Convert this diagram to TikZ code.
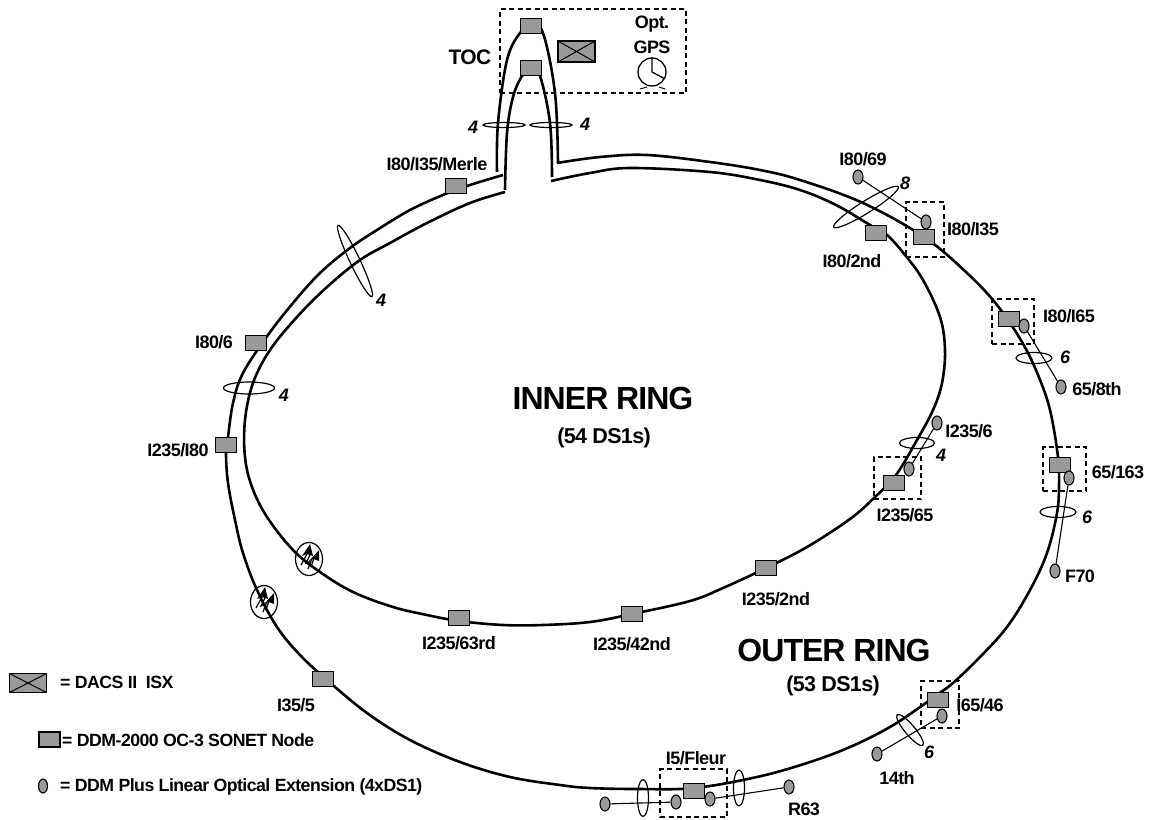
\documentclass[tikz,border=0pt]{standalone}
\usepackage{fontspec}
\usepackage{xcolor}
\setmainfont{Liberation Sans}[LetterSpace=-3]
\usetikzlibrary{arrows.meta,positioning,shapes.geometric,backgrounds}
\definecolor{boxfill}{HTML}{999999}
\providecommand{\tagf}{\fontsize{18}{20}\selectfont\bfseries}
\tikzset {
    nodebox/.style={draw, line width=1.3pt, fill=boxfill, minimum width=21pt, minimum height=15pt, inner sep=0pt},
    dacsbox/.style={draw, line width=1.3pt, fill=boxfill, inner sep=0pt,
        path picture={\draw[line width=1pt] (path picture bounding box.north west) -- (path picture bounding box.south east)
            (path picture bounding box.south west) -- (path picture bounding box.north east);}},
    extoval/.style={draw, line width=1.1pt, fill=boxfill, ellipse, minimum width=10pt, minimum height=14pt, inner sep=0pt},
    bundle/.style={draw, line width=1.2pt, ellipse, inner sep=0pt},
    site/.style={draw, line width=1.3pt, dash pattern=on 5pt off 3.5pt, inner sep=0pt},
    ring/.style={line width=2.6pt, line join=round},
    spur/.style={line width=1.1pt},
    tag/.style={font=\tagf, inner sep=0pt},
    count/.style={font=\tagf\itshape, inner sep=0pt},
    legend/.style={font=\fontsize{17.7}{20}\selectfont\bfseries, inner sep=0pt, anchor=west},
    ringname/.style={font=\fontsize{32}{35}\selectfont\bfseries, inner sep=0pt},
    ringsize/.style={font=\fontsize{21.5}{24}\selectfont\bfseries, inner sep=0pt},
    bolt/.pic={
        \fill (1,-15) -- (-7,-3) -- (-2,-5) -- (4,-3) -- cycle;
        \fill (10,-9) -- (0,2) -- (5,0) -- (10,2) -- cycle;
        \draw[line width=1.2pt] (-2,-5) -- (-8,6) (1,-4) -- (-3,4) -- (2,2) -- (-1,10) (5,-1) -- (2,8);
    }
}

\begin{document}
\begin{tikzpicture}[x=1pt, y=-1pt]
    \useasboundingbox (0,0) rectangle (1150,819);

    % nodes on the rings
    \node[nodebox] at (531,26)  (toctop) {};
    \node[nodebox] at (531,68)  (tocbot) {};
    \node[nodebox] at (456,186) (merle) {};
    \node[nodebox] at (256,343) (i806) {};
    \node[nodebox] at (226,445) (i235i80) {};
    \node[nodebox] at (323,679) (i355) {};
    \node[nodebox] at (694,791) (fleur) {};
    \node[nodebox] at (938,700) (i6546) {};
    \node[nodebox] at (1060,465) (f65163) {};
    \node[nodebox] at (1009,319) (i80i65) {};
    \node[nodebox] at (924,237) (i80i35) {};
    \node[nodebox] at (876,233) (i802nd) {};
    \node[nodebox] at (894,483) (i23565) {};
    \node[nodebox] at (766,568) (i2352nd) {};
    \node[nodebox] at (632,614) (i23542nd) {};
    \node[nodebox] at (459,618) (i23563rd) {};

    % extensions
    \node[extoval] at (858,177)  (x8069) {};
    \node[extoval] at (926,222)  (xi80i35) {};
    \node[extoval] at (1024,326) (xi80i65) {};
    \node[extoval] at (1061,387) (x658th) {};
    \node[extoval] at (937,423)  (x2356) {};
    \node[extoval] at (909,469)  (xi23565) {};
    \node[extoval] at (1069,478) (x65163) {};
    \node[extoval] at (1055,571) (xf70) {};
    \node[extoval] at (942,716)  (xi6546) {};
    \node[extoval] at (877,754)  (x14th) {};
    \node[extoval] at (676,802)  (xfleurl) {};
    \node[extoval] at (605,804)  (xfar) {};
    \node[extoval] at (710,799)  (xfleurr) {};
    \node[extoval] at (789,787)  (xr63) {};

    \begin{scope}[on background layer]
        % outer ring
        \draw[ring] plot[smooth, tension=0.6] coordinates {(557,163) (600,157) (647,155) (710,162) (760,170) (800,180) (863,203)
            (i80i35.center) (967,273) (997,305) (1022,342) (1038,375) (1050,410) (1058,457) (1059,485) (1057,513)
            (1047,553) (1030,590) (1007,627) (980,657) (953,683) (938,694) (923,705) (890,727) (850,747) (807,763)
            (757,777) (694,788) (637,789) (590,788) (560,785) (510,777) (460,762) (410,740) (367,713)
            (327,680) (300,655) (277,627) (257,590) (243,553) (235,520) (228,483) (226,453) (228,437)
            (233,403) (243,373) (268,335) (293,303) (320,273) (350,248) (377,230) (410,210) (443,195)
            (470,185) (503,175)};
        % inner ring
        \draw[ring] plot[smooth, tension=0.6] coordinates {(551,181) (590,173) (630,168) (710,172) (760,180) (800,190) (836,205)
            (870,225) (887,235) (905,255) (923,280) (940,317) (945,350) (942,383) (933,410) (917,440) (896,475)
            (875,497) (850,519) (807,547) (i2352nd.center) (723,588) (690,601)
            (i23542nd.center) (590,622) (543,625) (503,625) (459,621) (427,615) (393,607)
            (353,592) (320,572) (293,550) (267,517) (252,487) (245,457) (245,420) (253,383) (270,350)
            (297,317) (327,287) (360,260) (390,243) (427,223) (470,203) (505,192)};
        % up to the TOC
        \draw[ring] plot[smooth, tension=0.6] coordinates {(497,172) (498,123) (507,60) (520,33)
            (toctop.center) (543,33) (555,93) (558,163)};
        \draw[ring] plot[smooth, tension=0.6] coordinates {(505,190) (507,133) (513,97) (522,76)
            (tocbot.center) (540,76) (550,123) (552,177)};
        % spurs
        \draw[spur] (x8069) -- (xi80i35);
        \draw[spur] (xi80i65) -- (x658th);
        \draw[spur] (x2356) -- (xi23565);
        \draw[spur] (x65163) -- (xf70);
        \draw[spur] (xi6546) -- (x14th);
        \draw[spur] (xfleurl) -- (xfar);
        \draw[spur] (xfleurr) -- (xr63);
    \end{scope}

    % dashed sites
    \node[site, minimum width=186pt, minimum height=84pt] at (593,51) (toc) {};
    \node[site, minimum width=38pt, minimum height=55pt] at (925,229.5) (si80i35) {};
    \node[site, minimum width=42pt, minimum height=45pt] at (1013,321.5) (si80i65) {};
    \node[site, minimum width=47pt, minimum height=42pt] at (897.5,478) (si23565) {};
    \node[site, minimum width=43pt, minimum height=44pt] at (1064.5,469) (s65163) {};
    \node[site, minimum width=38pt, minimum height=47pt] at (940,704.5) (si6546) {};
    \node[site, minimum width=67pt, minimum height=48pt] at (693.5,793) (sfleur) {};

    % DACS and clock
    \node[dacsbox, minimum width=37pt, minimum height=21pt] at (576.5,51.5) (dacs) {};
    \node[draw, circle, line width=1.3pt, minimum size=28pt, inner sep=0pt] at (652,72) (gps) {};
    \draw[line width=1.3pt] (gps.north) -- (gps.center) -- (gps.-28);
    \draw[line width=1pt] (640,89) -- (647,87) (659,87) -- (665,89);

    % fibre bundles
    \node[bundle, minimum width=42pt, minimum height=5pt] at (504,125) (b4a) {};
    \node[bundle, minimum width=42pt, minimum height=5pt] at (551,125) (b4b) {};
    \node[bundle, minimum width=79pt, minimum height=10pt, rotate=-64.6] at (355,261) (b4c) {};
    \node[bundle, minimum width=51pt, minimum height=12pt] at (249,388) (b4d) {};
    \node[bundle, minimum width=76pt, minimum height=12pt, rotate=32] at (866,207) (b8) {};
    \node[bundle, minimum width=36pt, minimum height=11pt] at (1034,358) (b6a) {};
    \node[bundle, minimum width=35pt, minimum height=11pt] at (917,443) (b4e) {};
    \node[bundle, minimum width=36pt, minimum height=11pt] at (1058,512) (b6b) {};
    \node[bundle, minimum width=40pt, minimum height=10pt, rotate=-50] at (910,730) (b6c) {};
    \node[bundle, minimum width=11pt, minimum height=37pt] at (643,798) (b6d) {};
    \node[bundle, minimum width=11pt, minimum height=36pt] at (739,788) (b6e) {};

    % microwave hops
    \node[bundle, minimum width=27pt, minimum height=33pt] at (309,559) (hopa) {};
    \node[bundle, minimum width=27pt, minimum height=33pt] at (264,602) (hopb) {};
    \pic at (hopa) {bolt};
    \pic at (hopb) {bolt};

    % texts
    \node[tag, font=\fontsize{21}{24}\selectfont\bfseries] at (470,57) (ltoc) {TOC};
    \node[tag] at (652,24) (lopt) {Opt.};
    \node[tag] at (652,47) (lgps) {GPS};
    \node[tag] at (437,164) (lmerle) {I80/I35/Merle};
    \node[tag] at (214,342) (li806) {I80/6};
    \node[tag] at (178,450) (li235i80) {I235/I80};
    \node[tag] at (863,159) (li8069) {I80/69};
    \node[tag] at (973,229) (li80i35) {I80/I35};
    \node[tag] at (852,261) (li802nd) {I80/2nd};
    \node[tag] at (1069,316) (li80i65) {I80/I65};
    \node[tag] at (1097,389) (l658th) {65/8th};
    \node[tag] at (969,431) (li2356) {I235/6};
    \node[tag] at (905,515) (li23565) {I235/65};
    \node[tag] at (1118,472) (l65163) {65/163};
    \node[tag] at (1080,576) (lf70) {F70};
    \node[tag] at (776,599) (li2352nd) {I235/2nd};
    \node[tag] at (632,644) (li23542nd) {I235/42nd};
    \node[tag] at (459,643) (li23563rd) {I235/63rd};
    \node[tag] at (296,705) (li355) {I35/5};
    \node[tag] at (696,758) (lfleur) {I5/Fleur};
    \node[tag] at (804,809) (lr63) {R63};
    \node[tag] at (897,778) (l14th) {14th};
    \node[tag] at (980,705) (li6546) {I65/46};

    \node[count] at (473,127) (c1) {4};
    \node[count] at (585,124) (c2) {4};
    \node[count] at (381,300) (c3) {4};
    \node[count] at (284,395) (c4) {4};
    \node[count] at (905,183) (c5) {8};
    \node[count] at (1065,357) (c6) {6};
    \node[count] at (941,455) (c7) {4};
    \node[count] at (1087,517) (c8) {6};
    \node[count] at (929,752) (c9) {6};

    \node[ringname] at (603,398) (linner) {INNER RING};
    \node[ringsize] at (604,438) (linnern) {(54 DS1s)};
    \node[ringname] at (834,650) (louter) {OUTER RING};
    \node[ringsize] at (833,686) (loutern) {(53 DS1s)};

    % legend
    \node[dacsbox, minimum width=37pt, minimum height=19pt] at (28,683) (kdacs) {};
    \node[nodebox] at (49.5,739.5) (knode) {};
    \node[extoval, minimum width=9pt] at (43,786) (kext) {};
    \node[legend] at (60,682) (ldacs) {= DACS II\ \ ISX};
    \node[legend] at (62,740) (lnode) {= DDM-2000 OC-3 SONET Node};
    \node[legend] at (60,787) (lext) {= DDM Plus Linear Optical Extension (4xDS1)};
\end{tikzpicture}
\end{document}
